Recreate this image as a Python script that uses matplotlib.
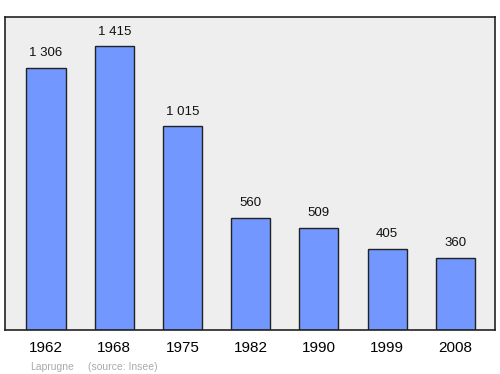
import matplotlib.pyplot as plt

plt.rcParams['font.family'] = ['Liberation Sans', 'DejaVu Sans']

annees = ['1962', '1968', '1975', '1982', '1990', '1999', '2008']
population = [1306, 1415, 1015, 560, 509, 405, 360]
etiquettes = ['1 306', '1 415', '1 015', '560', '509', '405', '360']

fig = plt.figure(figsize=(5, 3.74), dpi=100)
ax = fig.add_axes([0.01, 0.1176, 0.98, 0.837])
ax.set_facecolor('#eeeeee')

x = range(len(annees))
ax.bar(x, population, width=0.572, color='#7298ff', edgecolor='#222222', linewidth=1)

for i, v in enumerate(population):
    ax.annotate(etiquettes[i], (i, v), xytext=(0, 6), textcoords='offset points',
                ha='center', va='bottom', fontsize=9.5, color='#111111')

ax.set_xlim(-0.601, 6.58)
ax.set_ylim(0, 1559)
ax.set_yticks([])
ax.set_xticks(list(x))
ax.set_xticklabels(annees, fontsize=11)
ax.tick_params(axis='x', length=0, pad=8)
for s in ax.spines.values():
    s.set_linewidth(1.2)
    s.set_color('#222222')

fig.text(0.06, 0.01, 'Laprugne', fontsize=7.5, color='#aaaaaa')
fig.text(0.175, 0.01, '(source: Insee)', fontsize=7.5, color='#aaaaaa')

fig.savefig('out.png', dpi=100)
